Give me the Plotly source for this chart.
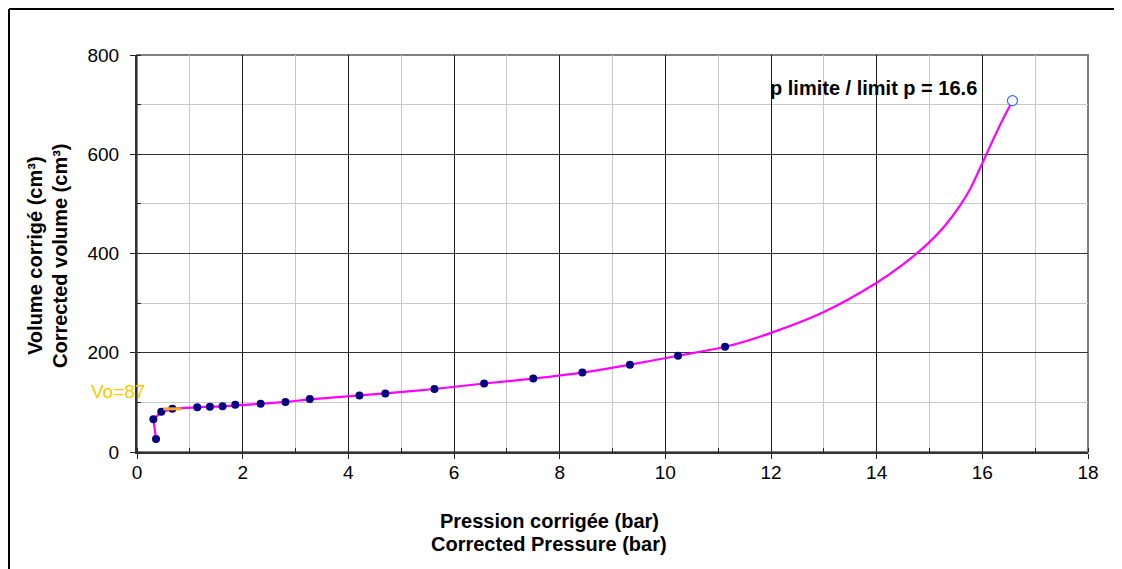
import plotly.graph_objects as go

# measured points (corrected pressure, bar ; corrected volume, cm3)
pressure = [0.36, 0.31, 0.46, 0.67, 1.14, 1.38, 1.62, 1.86, 2.34, 2.81, 3.27,
            4.21, 4.70, 5.63, 6.57, 7.50, 8.43, 9.33, 10.24, 11.13]
volume = [26, 66, 81, 87, 90, 91, 92, 95, 97, 101, 107,
          114, 118, 127, 138, 148, 160, 176, 194, 212]

# fitted curve
curve_p = [0.36, 0.31, 0.46, 0.67, 1.14, 1.38, 1.62, 1.86, 2.34, 2.81, 3.27,
           4.21, 4.70, 5.63, 6.57, 7.50, 8.43, 9.33, 10.24, 11.13, 12.0, 13.0,
           14.0, 14.5, 15.0, 15.3, 15.58, 15.77, 16.0, 16.15, 16.34, 16.57]
curve_v = [26, 66, 80, 87, 90, 91, 92, 94, 97, 101, 106,
           114, 118, 127, 138, 148, 160, 176, 194, 212, 240, 282,
           341, 378, 423, 457, 497, 530, 582, 617, 660, 708]

p_limit = 16.57
v_limit = 708
p_limit_label = "16.6"
vo = 87
vo_p = 0.67

x_ticks = [0, 2, 4, 6, 8, 10, 12, 14, 16, 18]
y_ticks = [0, 200, 400, 600, 800]

FONT = "Liberation Sans, Arial, sans-serif"

# page has an 8px body margin; figure pixel = reference pixel - 8
OFF = 8
L, T, PW, PH = 137 - OFF, 55 - OFF, 951, 397
W, H = 1122 - OFF, 569 - OFF

fig = go.Figure()
# initial (corner) part drawn straight, rest smooth
fig.add_trace(go.Scatter(x=curve_p[:3], y=curve_v[:3], mode="lines",
                         line=dict(color="#FF00FF", width=2.2),
                         hoverinfo="skip", showlegend=False))
fig.add_trace(go.Scatter(x=curve_p[2:], y=curve_v[2:], mode="lines",
                         line=dict(color="#FF00FF", width=2.2, shape="spline",
                                   smoothing=0.8),
                         hoverinfo="skip", showlegend=False))
fig.add_trace(go.Scatter(x=pressure, y=volume, mode="markers",
                         marker=dict(color="#000080", size=8),
                         showlegend=False))
fig.add_trace(go.Scatter(x=[vo_p], y=[vo], mode="markers",
                         marker=dict(symbol="line-ew-open", size=13,
                                     color="#F5A623",
                                     line=dict(color="#F5A623", width=3)),
                         showlegend=False))
fig.add_trace(go.Scatter(x=[p_limit], y=[v_limit], mode="markers",
                         marker=dict(symbol="circle", size=10, color="white",
                                     line=dict(color="#3366FF", width=1.2)),
                         showlegend=False, cliponaxis=False))


def px_x(px):
    return (px - 137) / float(PW)


def px_y(py):
    return (452 - py) / float(PH)


annotations = [
    dict(text="<b>Pression corrigée (bar)</b>", x=px_x(549), y=px_y(521)),
    dict(text="<b>Corrected Pressure (bar)</b>", x=px_x(549), y=px_y(544)),
    dict(text="<b>Volume corrigé (cm³)</b>", x=px_x(35), y=px_y(256),
         textangle=-90),
    dict(text="<b>Corrected volume (cm³)</b>", x=px_x(60), y=px_y(256),
         textangle=-90),
    dict(text="<b>p limite / limit p = " + p_limit_label + "</b>",
         x=px_x(873), y=px_y(88)),
    dict(text="Vo=" + str(vo), x=px_x(118), y=px_y(391), color="#FFC800",
         size=19),
]
for a in annotations:
    color = a.pop("color", "black")
    size = a.pop("size", 20)
    a.update(xref="paper", yref="paper", showarrow=False, xanchor="center",
             yanchor="middle", font=dict(family=FONT, size=size, color=color))
    fig.add_annotation(**a)

shapes = [
    # plot border (gray)
    dict(type="rect", xref="paper", yref="paper", x0=0, x1=1, y0=0, y1=1,
         line=dict(color="#808080", width=2), layer="between"),
    # outer frame (left and top)
    dict(type="line", xref="paper", yref="paper", x0=px_x(9), x1=px_x(9),
         y0=px_y(9), y1=px_y(600), line=dict(color="black", width=2)),
    dict(type="line", xref="paper", yref="paper", x0=px_x(9), x1=px_x(1200),
         y0=px_y(9), y1=px_y(9), line=dict(color="black", width=2)),
]
fig.update_layout(shapes=shapes)

fig.update_layout(
    width=W, height=H,
    margin=dict(l=L, r=W - L - PW, t=T, b=H - T - PH),
    paper_bgcolor="white", plot_bgcolor="white",
    font=dict(family=FONT, size=19, color="black"),
    showlegend=False,
)
fig.update_xaxes(
    range=[0, 18], tickvals=x_ticks, ticktext=[str(v) for v in x_ticks],
    showgrid=True, gridcolor="#1a1a1a", gridwidth=1,
    showline=True, linecolor="#333333", linewidth=2,
    ticks="outside", ticklen=5, tickcolor="#222222",
    zeroline=False, tickfont=dict(size=19), ticklabelstandoff=-3,
    minor=dict(dtick=1, showgrid=True, gridcolor="#c8c8c8", gridwidth=1,
               ticks="inside", ticklen=4, tickcolor="#222222"),
)
fig.update_yaxes(
    range=[0, 800], tickvals=y_ticks, ticktext=[str(v) for v in y_ticks],
    showgrid=True, gridcolor="#333333", gridwidth=1,
    showline=True, linecolor="#333333", linewidth=2,
    ticks="outside", ticklen=5, tickcolor="#222222",
    zeroline=False, tickfont=dict(size=19), ticklabelstandoff=7,
    minor=dict(dtick=100, showgrid=True, gridcolor="#c8c8c8", gridwidth=1,
               ticks="inside", ticklen=4, tickcolor="#222222"),
)

fig.write_html("out.html")
